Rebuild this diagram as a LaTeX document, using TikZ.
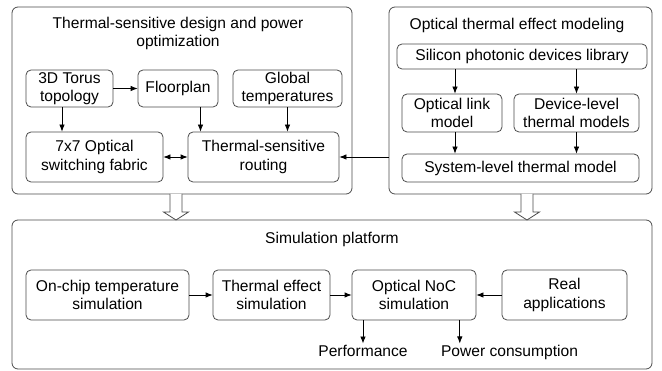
\documentclass[tikz,border=0pt]{standalone}
\usepackage{fontspec}
\setmainfont{Liberation Sans}
\usetikzlibrary{arrows.meta,calc}
\definecolor{dg}{gray}{0.3}
\tikzset{
    panel/.style =  {rectangle,
                    rounded corners=6pt,
                    fill=white,
                    draw=dg,
                    line width=0.8pt},
    box/.style =    {rectangle,
                    rounded corners=5pt,
                    fill=white,
                    draw=dg,
                    text=black,
                    line width=0.8pt,
                    align=center,
                    inner sep=0pt},
    heading/.style = {align=center,
                    text=black},
    result/.style = {text=black,
                    inner sep=2pt,
                    anchor=base},
    hollow/.style = {fill=white,
                    draw=dg,
                    line width=0.8pt},
    dims/.style 2 args = {minimum width=#1,
                    minimum height=#2},
    -,
    >={Latex[length=7pt,width=5.5pt]},
    flow/.style =   {->,
                    line width=0.8pt}}

\begin{document}
\begin{tikzpicture}[x=1pt,y=-1pt,font=\fontsize{15.6}{18.5}\selectfont]
    \useasboundingbox (0,0) rectangle (662,371);
    % panels
    \node[panel, dims={340pt}{187pt}] (design) at (182,100.5) {};
    \node[panel, dims={263pt}{187pt}] (optic)  at (520.5,100.5) {};
    \node[panel, dims={640pt}{149pt}] (sim)    at (332,294.5) {};
    \node[heading] (designT) at (178,33.5) {Thermal-sensitive design and power\\optimization};
    \node[heading] (opticT)  at (517,25)   {Optical thermal effect modeling};
    \node[heading] (simT)    at (332,239.5) {Simulation platform};
    % hollow arrows between the panels
    \foreach \cx in {176,527}
        \draw[hollow] (\cx-6,194) -- (\cx-6,212) -- (\cx-12.5,212) -- (\cx,220)
                      -- (\cx+12.5,212) -- (\cx+6,212) -- (\cx+6,194);
    % thermal-sensitive design
    \node[box, dims={87pt}{37pt}]   (torus)   at (69.5,88.5)  {3D Torus\\topology};
    \node[box, dims={80pt}{37pt}]   (floor)   at (178,88.5)   {Floorplan};
    \node[box, dims={109pt}{37pt}]  (global)  at (287.5,88.5) {Global\\temperatures};
    \node[box, dims={137pt}{50pt}]  (fabric)  at (94.5,157)   {7x7 Optical\\switching fabric};
    \node[box, dims={151pt}{50pt}]  (routing) at (263.5,157)  {Thermal-sensitive\\routing};
    % optical thermal effect modeling
    \node[box, dims={250pt}{25pt}]  (silicon)  at (522,56.5)  {Silicon photonic devices library};
    \node[box, dims={100pt}{38pt}]  (link)     at (452,113)   {Optical link\\model};
    \node[box, dims={125pt}{38pt}]  (devmodel) at (576.5,113) {Device-level\\thermal models};
    \node[box, dims={237pt}{28pt}]  (sysmodel) at (520.5,168) {System-level thermal model};
    % simulation platform
    \node[box, dims={163pt}{50pt}]  (onchip)  at (107.5,295)  {On-chip temperature\\simulation};
    \node[box, dims={117pt}{50pt}]  (effect)  at (271.5,295)  {Thermal effect\\simulation};
    \node[box, dims={124pt}{50pt}]  (noc)     at (414,295)    {Optical NoC\\simulation};
    \node[box, dims={125pt}{50pt}]  (realapp) at (564.5,295)  {Real\\applications};
    \node[result] (perf)  at (363,357)   {Performance};
    \node[result] (power) at (509.5,357) {Power consumption};

    \path [flow]    (torus) edge (floor)
                    ([xshift=-7.5pt]torus.south) edge ([xshift=-7.5pt]torus.south |- fabric.north)
                    ([xshift=22.5pt]floor.south) edge ([xshift=22.5pt]floor.south |- routing.north)
                    (global) edge (global |- routing.north)
                    (optic.west |- routing.east) edge (routing.east);
    \draw [flow,<->] (fabric) -- (routing);
    \path [flow]    ([xshift=3pt]link.north |- silicon.south) edge ([xshift=3pt]link.north)
                    (devmodel.north |- silicon.south) edge (devmodel.north)
                    ([xshift=3pt]link.south) edge ([xshift=3pt]link.south |- sysmodel.north)
                    (devmodel.south) edge (devmodel.south |- sysmodel.north);
    \path [flow]    (onchip) edge (effect)
                    (effect) edge (noc)
                    (realapp) edge (noc)
                    (perf.north |- noc.south) edge (perf.north)
                    ([xshift=21pt]power.north west |- noc.south) edge ([xshift=21pt]power.north west);
\end{tikzpicture}
\end{document}
